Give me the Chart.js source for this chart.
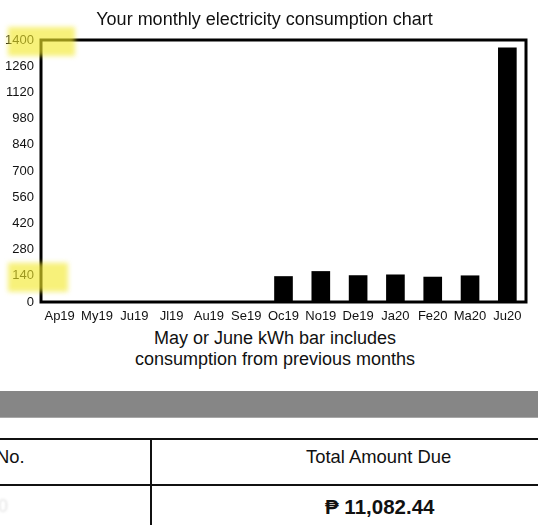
<!DOCTYPE html>
<html>
<head>
<meta charset="utf-8">
<script src="https://cdn.jsdelivr.net/npm/chart.js@4.4.0/dist/chart.umd.min.js"></script>
<style>
  html, body { margin: 0; padding: 0; background: #fff; }
  body { width: 538px; height: 525px; position: relative; overflow: hidden; font-family: "Liberation Sans", Arial, sans-serif; }
  #wrap { position: absolute; left: 0; top: 0; width: 538px; height: 326px; }
  .caption { position: absolute; left: 175px; width: 200px; top: 328px; text-align: center; font-size: 18px; line-height: 21px; color: #111; white-space: nowrap; }
  .caption div { width: 200px; display: flex; justify-content: center; }
  .grayband { position: absolute; left: 0; top: 391px; width: 538px; height: 26px; background: #868686; border-bottom: 1px solid #a8a8a8; }
  .hline { position: absolute; left: 0; width: 538px; height: 2px; background: #111; }
  .vline { position: absolute; left: 150px; top: 439px; width: 2px; height: 90px; background: #111; }
  .txt { position: absolute; color: #111; white-space: nowrap; }
</style>
</head>
<body>
<div id="wrap"><canvas id="c"></canvas></div>
<div class="caption" id="caption"></div>
<div class="grayband"></div>
<div class="hline" style="top:438px"></div>
<div class="hline" style="top:484px"></div>
<div class="vline"></div>
<div class="txt" style="left:-4px; top:446px; font-size:18.4px;">No.</div>
<div class="txt" style="left:306px; top:446px; font-size:18.4px;">Total Amount Due</div>
<div class="txt" style="left:325px; top:495px; font-size:20.5px; font-weight:bold;">₱ 11,082.44</div>
<div class="txt" style="left:-2px; top:496px; font-size:18px; color:#e4e4e4; filter:blur(1.2px);">0</div>
<script>
const categories = ["Ap19","My19","Ju19","Jl19","Au19","Se19","Oc19","No19","De19","Ja20","Fe20","Ma20","Ju20"];
const kwh = [0,0,0,0,0,0,138,165,143,147,135,142,1360];
const yTicks = [0,140,280,420,560,700,840,980,1120,1260,1400];
const titleText = "Your monthly electricity consumption chart";
const captionLines = ["May or June kWh bar includes","consumption from previous months"];
const highlightedTicks = [1400,140];

const FONT = "'Liberation Sans', Arial, sans-serif";

const cap = document.getElementById('caption');
captionLines.forEach(t => { const d = document.createElement('div'); d.textContent = t; cap.appendChild(d); });

const framePlugin = {
  id: 'frame',
  afterDatasetsDraw(chart) {
    const a = chart.chartArea, ctx = chart.ctx;
    ctx.save();
    ctx.strokeStyle = '#000';
    ctx.lineWidth = 3;
    ctx.strokeRect(a.left, a.top, a.right - a.left, a.bottom - a.top);
    ctx.restore();
  },
  afterDraw(chart) {
    const ctx = chart.ctx, y = chart.scales.y;
    ctx.save();
    ctx.filter = 'blur(2.5px)';
    ctx.fillStyle = 'rgba(242,232,40,0.62)';
    highlightedTicks.forEach((v, i) => {
      const py = y.getPixelForValue(v);
      const w = i === 0 ? 67 : 60;
      ctx.fillRect(8, py - 13, w, 29);
    });
    ctx.restore();
  }
};

new Chart(document.getElementById('c'), {
  type: 'bar',
  data: {
    labels: categories,
    datasets: [{
      data: kwh,
      backgroundColor: '#000',
      borderWidth: 0,
      barPercentage: 0.5,
      categoryPercentage: 1.0
    }]
  },
  options: {
    responsive: true,
    maintainAspectRatio: false,
    animation: false,
    devicePixelRatio: 1,
    layout: { padding: { left: 3, right: 12, top: 0, bottom: 0 } },
    plugins: {
      legend: { display: false },
      tooltip: { enabled: false },
      title: {
        display: true,
        text: titleText,
        color: '#111',
        font: { family: FONT, size: 18, weight: 'normal', lineHeight: 1.2 },
        padding: { top: 9.2, bottom: 9.2 }
      }
    },
    scales: {
      x: {
        grid: { display: false, drawTicks: false },
        border: { display: false },
        ticks: { color: '#111', font: { family: FONT, size: 13 }, padding: 6.5, maxRotation: 0, autoSkip: false },
        afterFit(s) { s.height = 24; }
      },
      y: {
        min: 0,
        max: 1400,
        grid: { display: false, drawTicks: false },
        border: { display: false },
        afterBuildTicks(s) { s.ticks = yTicks.map(v => ({ value: v })); },
        ticks: { color: '#111', font: { family: FONT, size: 13 }, padding: 7, callback: v => String(v) },
        afterFit(s) { s.width = 38; }
      }
    }
  },
  plugins: [framePlugin]
});
</script>
</body>
</html>
